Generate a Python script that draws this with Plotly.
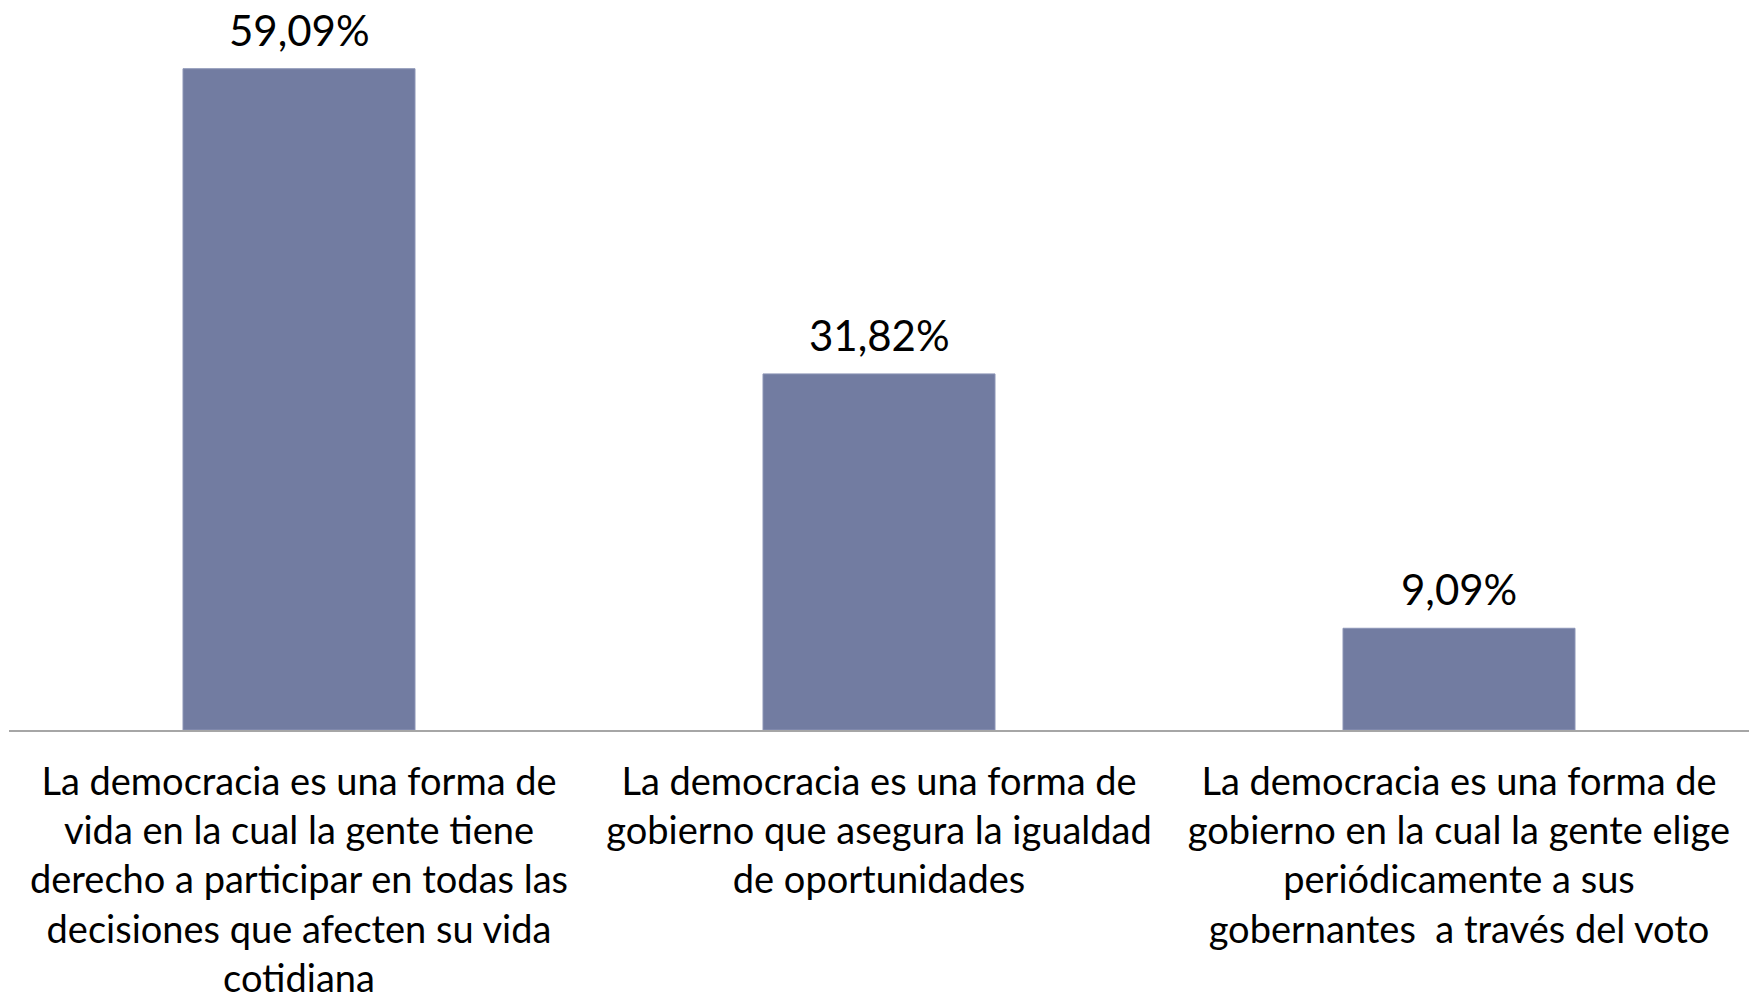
import plotly.graph_objects as go

categories = [
    "La democracia es una forma de<br>vida en la cual la gente tiene<br>derecho a participar en todas las<br>decisiones que afecten su vida<br>cotidiana",
    "La democracia es una forma de<br>gobierno que asegura la igualdad<br>de oportunidades",
    "La democracia es una forma de<br>gobierno en la cual la gente elige<br>periódicamente a sus<br>gobernantes  a través del voto",
]
values = [59.09, 31.82, 9.09]
value_labels = ["59,09%", "31,82%", "9,09%"]

FONT = "Lato, 'Open Sans', sans-serif"

fig = go.Figure()
fig.add_trace(go.Bar(
    x=categories,
    y=values,
    marker=dict(color="#727CA1", line=dict(color="#8C95B6", width=1)),
    width=0.4,
    hoverinfo="skip",
))

for c, v, t in zip(categories, values, value_labels):
    fig.add_annotation(x=c, y=v, text=t, showarrow=False, yanchor="bottom",
                       yshift=12, font=dict(family=FONT, size=42, color="#000000"))

fig.update_layout(
    width=1760, height=995,
    margin=dict(l=1, r=19, t=5, b=273, autoexpand=False),
    paper_bgcolor="white", plot_bgcolor="white",
    showlegend=False,
    bargap=0.6,
    font=dict(family=FONT, color="#000000"),
)
fig.update_xaxes(
    showline=True, linecolor="#A6A6A6", linewidth=2,
    showgrid=False, ticks="", tickfont=dict(family=FONT, size=38, color="#000000"),
    ticklabelstandoff=17, tickangle=0, automargin=False,
)
fig.update_yaxes(range=[0, 64.07], visible=False, showgrid=False, automargin=False)

fig.write_html("out.html")
